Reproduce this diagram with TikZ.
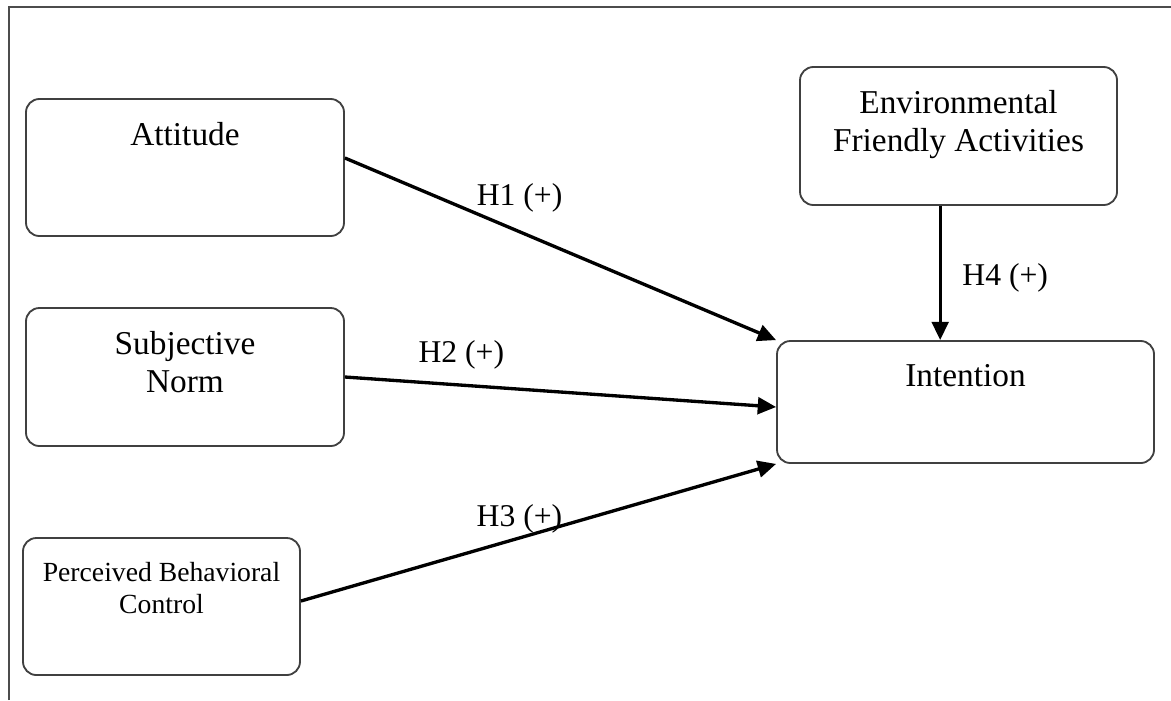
\documentclass[tikz,border=0pt]{standalone}
\usepackage{fontspec}
\setmainfont{Liberation Serif}
\usepackage{tikz}
\usetikzlibrary{arrows.meta}
\usetikzlibrary{positioning}

\begin{document}
\begin{tikzpicture}[x=0.3pt,y=-0.3pt]
\tikzstyle{box}=[draw=black!75,line width=0.55pt,shape=rectangle,rounded corners=4pt,inner sep=0pt]
\tikzstyle{txt}=[inner sep=0pt,align=center,font=\fontsize{10}{11.4}\selectfont]
\tikzstyle{hyp}=[line width=1pt,-{Triangle[length=5.5pt,width=5pt]}]
\tikzstyle{hl}=[inner sep=0pt,font=\fontsize{9.5}{11}\selectfont]
%
\useasboundingbox (0,0) rectangle (1171,700);
\draw[black!70,line width=0.6pt] (9,700) -- (9,7) -- (1171,7);
%
\node[box,minimum width=95.4pt,minimum height=41.1pt](att) at (185,167.5){};
\node[box,minimum width=95.4pt,minimum height=41.4pt](sn) at (185,377){};
\node[box,minimum width=83.1pt,minimum height=41.1pt](pbc) at (161.5,606.5){};
\node[box,minimum width=95.1pt,minimum height=41.4pt](efa) at (958.5,136){};
\node[box,minimum width=113.1pt,minimum height=36.6pt](int) at (965.5,402){};
%
\node[txt,below=7.2pt of att.north](atttxt){Attitude};
\node[txt,below=7.2pt of sn.north](sntxt){Subjective\\Norm};
\node[txt,below=7.5pt of pbc.north,font=\fontsize{8.3}{9.6}\selectfont](pbctxt){Perceived Behavioral\\Control};
\node[txt,below=7.2pt of efa.north](efatxt){Environmental\\Friendly Activities};
\node[txt,below=7.2pt of int.north](inttxt){Intention};
%
\draw[hyp] ([yshift=2.85pt]att.east) -- (int.north west)node[hl,pos=0.405,yshift=10.2pt]{H1 (+)};
\draw[hyp] (sn.east) -- ([yshift=-1.5pt]int.west)node[hl,pos=0.27,yshift=9.2pt]{H2 (+)};
\draw[hyp] ([yshift=1.65pt]pbc.east) -- (int.south west)node[hl,pos=0.46,yshift=5.8pt]{H3 (+)};
%
\coordinate (h4) at ([xshift=-5.5pt]efa.south);
\draw[hyp] (h4) -- (h4 |- int.north)node[hl,midway,xshift=19.5pt,yshift=-1.5pt]{H4 (+)};
\end{tikzpicture}
\end{document}
